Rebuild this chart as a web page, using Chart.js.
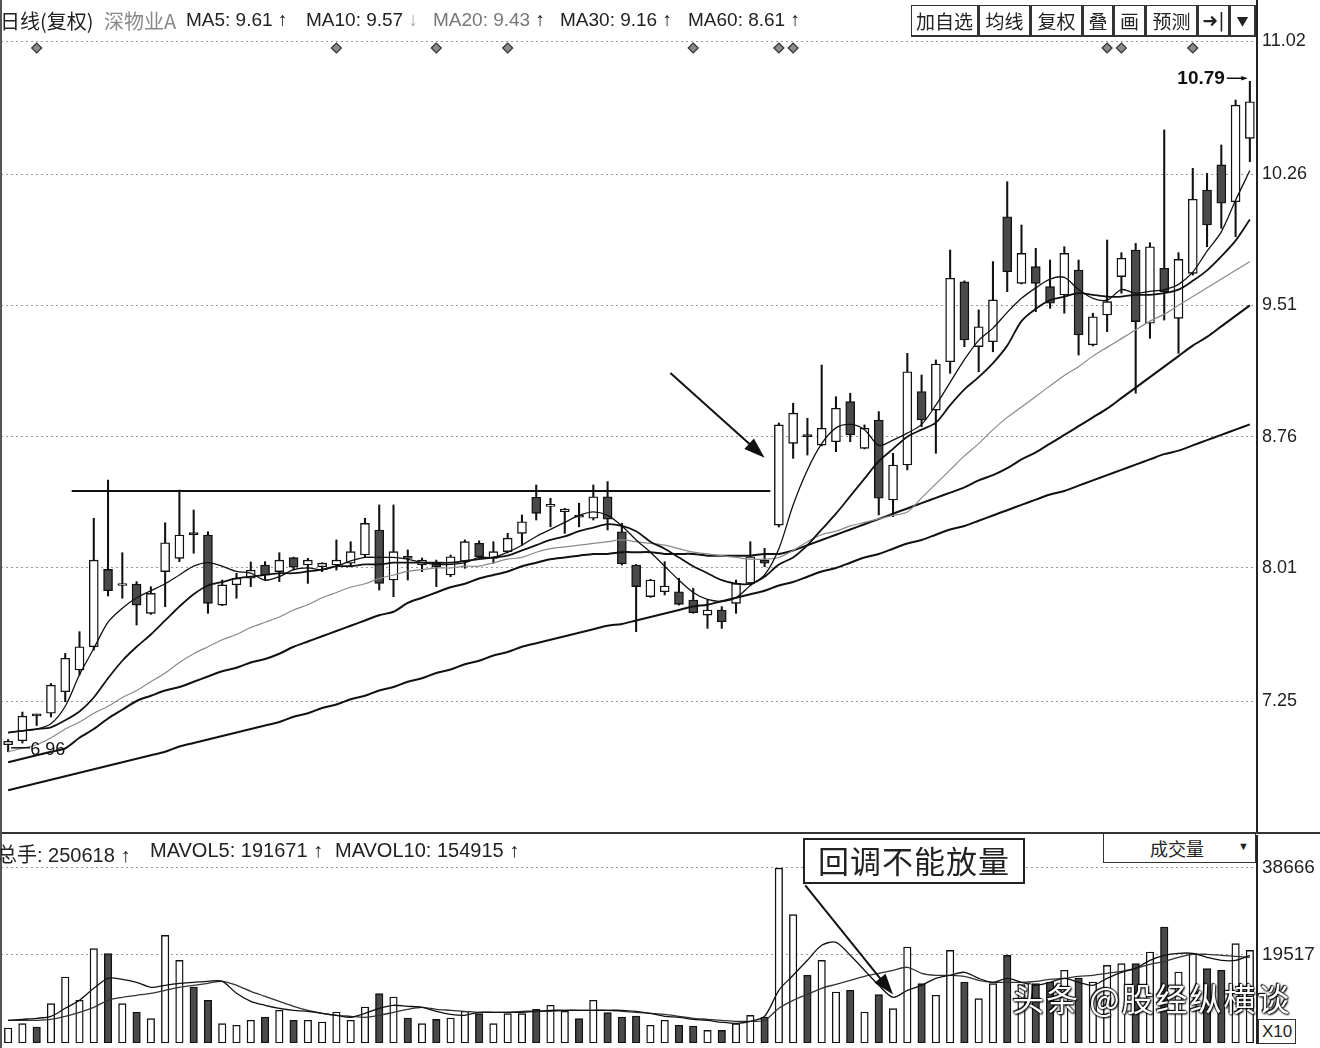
<!DOCTYPE html>
<html>
<head>
<meta charset="utf-8">
<title>深物业A 日线</title>
<script src="https://cdn.jsdelivr.net/npm/chart.js@4.4.1/dist/chart.umd.min.js"></script>
<style>
  body { margin: 0; background: #fff; width: 1320px; height: 1048px; overflow: hidden; position: relative;
         font-family: "Liberation Sans", Arial, "Noto Sans CJK SC", sans-serif; color: #222; }
  canvas { position: absolute; left: 0; }
  #price { top: 0; }
  #volume { top: 835px; }
  .txt { position: absolute; font-size: 19px; white-space: nowrap; z-index: 2; }
  .txt b { font-weight: bold; }
  .cjk { font-family: "Noto Sans CJK SC", sans-serif; font-size: 20px; }
  .vtxt { font-size: 20px; top: 839px; }
  .btn { position: absolute; top: 5px; height: 32px; box-sizing: border-box; border: 1px solid #333;
         border-right-width: 2px; border-bottom-width: 2px; background: #fff; font-size: 19px;
         text-align: center; line-height: 29px; z-index: 2; font-family: "Noto Sans CJK SC", sans-serif; }
  .box { position: absolute; background: #fff; box-sizing: border-box; z-index: 2; }
  #sep { position: absolute; left: 0; top: 832px; width: 1320px; height: 2px; background: #333; z-index: 2; }
  #leftEdge { position: absolute; left: 0; top: 0; width: 2px; height: 1048px; background: #555; z-index: 2; }
  #wm { position: absolute; left: 1012px; top: 974px; font: 32px "Noto Sans CJK SC", sans-serif; color: #fff; z-index: 3;
        letter-spacing: 2px;
        text-shadow: 0 0 2px #000, 0 0 2px #000, 1px 1px 2px #000, -1px -1px 1px #000; }
</style>
</head>
<body>
<canvas id="price" width="1320" height="832"></canvas>
<canvas id="volume" width="1320" height="213"></canvas>
<div id="sep"></div>
<div id="leftEdge"></div>

<!-- price header -->
<div class="txt cjk" style="left:0;top:6px">日线(复权)</div>
<div class="txt cjk" style="left:104px;top:6px;color:#888">深物业A</div>
<div class="txt" style="left:186px;top:9px">MA5: 9.61<b> ↑</b></div>
<div class="txt" style="left:306px;top:9px">MA10: 9.57 <span style="color:#aaa">↓</span></div>
<div class="txt" style="left:433px;top:9px;color:#777">MA20: 9.43<b style="color:#222"> ↑</b></div>
<div class="txt" style="left:560px;top:9px">MA30: 9.16<b> ↑</b></div>
<div class="txt" style="left:688px;top:9px">MA60: 8.61<b> ↑</b></div>

<div class="btn" style="left:911px;width:68px">加自选</div>
<div class="btn" style="left:979px;width:52px">均线</div>
<div class="btn" style="left:1031px;width:52px">复权</div>
<div class="btn" style="left:1083px;width:31px">叠</div>
<div class="btn" style="left:1114px;width:32px">画</div>
<div class="btn" style="left:1146px;width:52px">预测</div>
<div class="btn" style="left:1198px;width:32px;font-family:'DejaVu Sans'">➜|</div>
<div class="btn" style="left:1230px;width:26px;font-size:12px">▼</div>

<!-- volume header -->
<div class="txt vtxt" style="left:-3px"><span class="cjk">总手</span>: 250618<b> ↑</b></div>
<div class="txt vtxt" style="left:150px">MAVOL5: 191671<b> ↑</b></div>
<div class="txt vtxt" style="left:335px">MAVOL10: 154915<b> ↑</b></div>
<div class="box" style="left:1103px;top:834px;width:153px;height:29px;border:1px solid #333;border-top:none">
  <span style="position:absolute;left:46px;top:1px;font:18px 'Noto Sans CJK SC'">成交量</span>
  <span style="position:absolute;left:134px;top:6px;font-size:11px">▼</span>
</div>
<div class="box" style="left:803px;top:838px;width:222px;height:46px;border:2px solid #222;
     font:31px 'Noto Sans CJK SC';line-height:40px;text-align:center;letter-spacing:1px">回调不能放量</div>
<div class="box" style="left:1258px;top:1019px;width:38px;height:25px;border:1px solid #333;font-size:17px;line-height:23px;text-align:center">X10</div>
<div id="wm">头条 @股经纵横谈</div>

<script>
// daily candles, oldest first (prices)
const opens = [
  7.00, 7.023, 7.17, 7.18, 7.303, 7.427, 7.56, 8.002, 7.91, 7.918,
  7.751, 7.989, 8.065, 8.21, 8.198, 7.798, 7.913, 7.951, 8.027, 7.989,
  8.069, 8.027, 8.016, 8.027, 8.037, 8.084, 8.227, 7.941, 8.07, 8.027,
  8.038, 7.97, 8.046, 8.151, 8.065, 8.103, 8.208, 8.414, 8.362, 8.331,
  8.305, 8.294, 8.417, 8.217, 8.027, 7.846, 7.874, 7.874, 7.827, 7.741,
  7.77, 7.808, 7.922, 8.055, 8.255, 8.722, 8.765, 8.712, 8.731, 8.96,
  8.693, 8.855, 8.398, 8.598, 9.018, 8.912, 9.188, 9.645, 9.274, 9.302,
  10.016, 9.636, 9.731, 9.617, 9.569, 9.712, 9.284, 9.455, 9.674, 9.826,
  9.408, 9.722, 9.436, 9.693, 10.169, 10.312, 10.102, 10.464
];
const highs = [
  7.03, 7.187, 7.175, 7.35, 7.522, 7.646, 8.294, 8.512, 8.097, 7.932,
  7.903, 8.268, 8.455, 8.341, 8.217, 7.941, 7.98, 8.044, 8.046, 8.097,
  8.072, 8.065, 8.04, 8.17, 8.16, 8.294, 8.37, 8.37, 8.113, 8.067,
  8.055, 8.084, 8.17, 8.165, 8.16, 8.208, 8.313, 8.484, 8.408, 8.35,
  8.38, 8.484, 8.503, 8.265, 8.03, 7.945, 8.046, 7.951, 7.894, 7.827,
  7.789, 7.941, 8.16, 8.122, 8.838, 8.951, 8.865, 9.169, 8.988, 9.008,
  8.827, 8.903, 8.665, 9.236, 9.112, 9.198, 9.826, 9.65, 9.484, 9.76,
  10.216, 9.969, 9.836, 9.769, 9.845, 9.769, 9.465, 9.883, 9.811, 9.864,
  9.868, 10.512, 9.811, 10.293, 10.264, 10.426, 10.683, 10.79
];
const lows = [
  6.96, 7.01, 7.11, 7.159, 7.246, 7.399, 7.541, 7.85, 7.837, 7.684,
  7.745, 7.789, 8.046, 8.094, 7.751, 7.795, 7.837, 7.903, 7.941, 7.932,
  7.998, 7.922, 7.989, 7.998, 8.017, 8.074, 7.884, 7.846, 7.941, 7.989,
  7.903, 7.96, 8.008, 8.065, 8.037, 8.096, 8.141, 8.284, 8.245, 8.208,
  8.245, 8.284, 8.227, 8.027, 7.646, 7.842, 7.856, 7.798, 7.751, 7.665,
  7.665, 7.751, 7.913, 8.017, 8.244, 8.636, 8.655, 8.707, 8.674, 8.731,
  8.69, 8.313, 8.303, 8.57, 8.817, 8.665, 9.122, 9.274, 9.131, 9.245,
  9.588, 9.632, 9.474, 9.493, 9.465, 9.226, 9.278, 9.36, 9.579, 9.008,
  9.322, 9.426, 9.236, 9.683, 9.845, 9.95, 9.902, 10.331
];
const closes = [
  7.02, 7.164, 7.165, 7.341, 7.494, 7.56, 8.055, 7.88, 7.915, 7.798,
  7.865, 8.154, 8.198, 8.20, 7.808, 7.913, 7.951, 7.998, 7.97, 8.055,
  8.014, 8.055, 8.038, 8.055, 8.103, 8.265, 7.922, 8.103, 8.065, 8.055,
  8.016, 8.074, 8.16, 8.074, 8.103, 8.18, 8.274, 8.322, 8.366, 8.347,
  8.30, 8.417, 8.288, 8.033, 7.903, 7.941, 7.907, 7.802, 7.754, 7.77,
  7.703, 7.922, 8.074, 8.037, 8.827, 8.894, 8.76, 8.808, 8.922, 8.77,
  8.808, 8.408, 8.598, 9.131, 8.855, 9.175, 9.665, 9.312, 9.388, 9.541,
  9.702, 9.807, 9.636, 9.522, 9.807, 9.341, 9.445, 9.531, 9.779, 9.417,
  9.845, 9.588, 9.773, 10.116, 9.969, 10.093, 10.654, 10.673
];

// moving averages as drawn on the chart
const ma5 = [
  7.07, 7.08, 7.09, 7.12, 7.22, 7.40, 7.55, 7.70, 7.78, 7.84,
  7.88, 7.92, 7.97, 8.02, 8.04, 8.02, 7.99, 7.98, 7.94, 7.96,
  8.00, 8.01, 8.00, 8.02, 8.05, 8.07, 8.07, 8.07, 8.06, 8.04,
  8.03, 8.03, 8.04, 8.07, 8.07, 8.10, 8.14, 8.19, 8.23, 8.27,
  8.31, 8.33, 8.31, 8.25, 8.17, 8.10, 8.02, 7.94, 7.87, 7.83,
  7.82, 7.84, 7.91, 7.97, 8.12, 8.37, 8.57, 8.72, 8.81, 8.83,
  8.80, 8.71, 8.74, 8.78, 8.83, 8.94, 9.07, 9.20, 9.31, 9.38,
  9.47, 9.55, 9.61, 9.66, 9.67, 9.60, 9.55, 9.54, 9.60, 9.58,
  9.59, 9.60, 9.63, 9.70, 9.82, 9.93, 10.11, 10.28
];
const ma10 = [
  7.07, 7.08, 7.09, 7.10, 7.14, 7.19, 7.27, 7.38, 7.48, 7.56,
  7.63, 7.71, 7.79, 7.86, 7.91, 7.93, 7.95, 7.96, 7.97, 7.98,
  7.98, 7.99, 8.00, 8.02, 8.02, 8.03, 8.03, 8.04, 8.04, 8.04,
  8.04, 8.04, 8.05, 8.06, 8.07, 8.08, 8.11, 8.14, 8.17, 8.19,
  8.22, 8.24, 8.26, 8.25, 8.22, 8.16, 8.12, 8.07, 8.02, 7.98,
  7.94, 7.92, 7.92, 7.96, 8.03, 8.07, 8.14, 8.23, 8.32, 8.42,
  8.52, 8.62, 8.69, 8.76, 8.80, 8.84, 8.94, 9.03, 9.10, 9.18,
  9.28, 9.42, 9.49, 9.54, 9.56, 9.58, 9.57, 9.56, 9.56, 9.57,
  9.57, 9.58, 9.60, 9.65, 9.71, 9.79, 9.88, 10.00
];
const ma20 = [
  6.96, 6.98, 7.00, 7.04, 7.09, 7.13, 7.18, 7.22, 7.27, 7.31,
  7.36, 7.41, 7.47, 7.52, 7.56, 7.60, 7.63, 7.67, 7.70, 7.73,
  7.77, 7.80, 7.84, 7.87, 7.90, 7.92, 7.95, 7.97, 7.99, 8.00,
  8.01, 8.01, 8.02, 8.02, 8.04, 8.06, 8.07, 8.10, 8.12, 8.13,
  8.14, 8.15, 8.16, 8.17, 8.16, 8.15, 8.14, 8.12, 8.10, 8.09,
  8.08, 8.07, 8.06, 8.06, 8.07, 8.11, 8.16, 8.20, 8.22, 8.25,
  8.27, 8.29, 8.31, 8.33, 8.41, 8.49, 8.57, 8.65, 8.72, 8.80,
  8.87, 8.93, 8.99, 9.05, 9.11, 9.16, 9.22, 9.27, 9.32, 9.37,
  9.42, 9.46, 9.51, 9.56, 9.61, 9.66, 9.71, 9.76
];
const ma30 = [
  6.90, 6.92, 6.94, 6.96, 6.98, 7.04, 7.09, 7.15, 7.20, 7.25,
  7.28, 7.31, 7.33, 7.36, 7.39, 7.42, 7.44, 7.47, 7.49, 7.52,
  7.56, 7.59, 7.62, 7.65, 7.68, 7.71, 7.74, 7.76, 7.81, 7.84,
  7.87, 7.90, 7.92, 7.95, 7.97, 7.99, 8.02, 8.04, 8.06, 8.07,
  8.08, 8.09, 8.09, 8.10, 8.10, 8.10, 8.09, 8.09, 8.09, 8.08,
  8.08, 8.08, 8.08, 8.09, 8.09, 8.11, 8.14, 8.17, 8.20, 8.23,
  8.26, 8.29, 8.32, 8.35, 8.38, 8.41, 8.44, 8.47, 8.51, 8.54,
  8.58, 8.63, 8.67, 8.72, 8.77, 8.82, 8.87, 8.92, 8.98, 9.04,
  9.10, 9.16, 9.22, 9.28, 9.33, 9.39, 9.45, 9.51
];
const ma60 = [
  6.74, 6.76, 6.78, 6.80, 6.82, 6.84, 6.86, 6.88, 6.90, 6.92,
  6.94, 6.96, 6.99, 7.01, 7.03, 7.05, 7.07, 7.09, 7.11, 7.13,
  7.16, 7.18, 7.21, 7.23, 7.26, 7.28, 7.31, 7.33, 7.36, 7.38,
  7.41, 7.43, 7.46, 7.48, 7.51, 7.53, 7.56, 7.58, 7.60, 7.62,
  7.64, 7.66, 7.68, 7.69, 7.71, 7.73, 7.75, 7.77, 7.79, 7.80,
  7.82, 7.84, 7.86, 7.88, 7.91, 7.93, 7.96, 7.99, 8.01, 8.04,
  8.07, 8.09, 8.12, 8.15, 8.17, 8.20, 8.23, 8.25, 8.28, 8.31,
  8.34, 8.37, 8.40, 8.43, 8.45, 8.48, 8.51, 8.54, 8.57, 8.60,
  8.63, 8.66, 8.68, 8.71, 8.74, 8.77, 8.80, 8.83
];

// volume (x10) and its averages
const volumes = [
  3300, 4270, 3520, 8670, 14530, 9400, 20780, 19680, 8670, 6820,
  5370, 23700, 18200, 12330, 9400, 4270, 3900, 5000, 5720, 7200,
  5000, 5000, 4620, 6820, 5000, 7920, 10870, 10130, 5500, 4270,
  5210, 5500, 6980, 6470, 4270, 6470, 6470, 7420, 8300, 6980,
  5370, 9400, 6690, 5720, 5940, 3900, 5000, 3900, 3740, 2790,
  2790, 4270, 6090, 5720, 38500, 28250, 14900, 18200, 11230, 11600,
  6820, 10650, 7570, 21130, 13070, 10500, 20400, 13430, 9770, 13070,
  19300, 12850, 13070, 13430, 16000, 14300, 13430, 17100, 17480, 17480,
  20030, 25530, 15630, 19680, 16380, 16000, 21880, 20400
];
const mavol5 = [
  5000, 5220, 5440, 5880, 7640, 9400, 12040, 14240, 14020, 13360,
  12260, 12700, 13140, 13360, 13580, 13580, 10940, 9180, 8300, 7640,
  7200, 6980, 6540, 6100, 5660, 6540, 7640, 8300, 8080, 7860,
  6980, 6320, 6100, 6760, 6760, 6760, 6760, 6980, 7200, 7200,
  7200, 7200, 7200, 7200, 6980, 6540, 5880, 5660, 5220, 5000,
  4560, 4340, 4780, 5880, 11600, 14900, 18200, 21500, 22160, 19300,
  16000, 12700, 10060, 11600, 12700, 14240, 14900, 15560, 14240, 13360,
  14240, 13360, 12700, 13360, 14240, 13360, 12700, 14240, 15560, 16440,
  18200, 19300, 19740, 19740, 18860, 18200, 18200, 19300
];
const mavol10 = [
  5000, 5000, 5000, 5220, 5880, 6760, 7860, 9400, 10060, 10500,
  10940, 11600, 12260, 12700, 13140, 13580, 12700, 11380, 10280, 9180,
  8080, 7200, 6540, 6100, 5880, 5660, 6100, 6760, 7420, 7860,
  7420, 7200, 6980, 6760, 6760, 6760, 6980, 6980, 6980, 7200,
  7200, 7200, 7200, 6980, 6760, 6540, 6320, 5880, 5440, 5220,
  5000, 4780, 4780, 5000, 7640, 9400, 10720, 12040, 12920, 13800,
  14680, 15340, 16000, 16660, 15340, 14900, 14900, 14680, 13800, 13360,
  13360, 13360, 13580, 14020, 14240, 14680, 14900, 15340, 15780, 16440,
  17320, 17980, 18860, 19520, 19520, 19300, 19080, 18860
];

const priceTicks = [7.25, 8.01, 8.76, 9.51, 10.26, 11.02];
const volumeTicks = [19517, 38666];
const markerIdx = [2, 23, 30, 35, 48, 54, 55, 77, 78, 83];  // info diamonds along the top
const markerLevel = 10.98;
const resistance = 8.45;

const labels = opens.map((_, i) => i);
const isUp = opens.map((o, i) => closes[i] >= opens[i]);
const INK = '#111';
const DOWN = '#4a4a4a';

Chart.defaults.font.family = '"Liberation Sans", Arial, sans-serif';
Chart.defaults.color = '#222';

function drawArrow(ctx, x1, y1, x2, y2, head) {
  const a = Math.atan2(y2 - y1, x2 - x1);
  ctx.beginPath();
  ctx.moveTo(x1, y1);
  ctx.lineTo(x2 - Math.cos(a) * head * 0.7, y2 - Math.sin(a) * head * 0.7);
  ctx.stroke();
  ctx.beginPath();
  ctx.moveTo(x2, y2);
  ctx.lineTo(x2 - head * Math.cos(a - 0.33), y2 - head * Math.sin(a - 0.33));
  ctx.lineTo(x2 - head * Math.cos(a + 0.33), y2 - head * Math.sin(a + 0.33));
  ctx.closePath();
  ctx.fill();
}

// keep the right axis a fixed width and stop it padding the plot area
function fixAxis(s) {
  s.width = 63;
  s.paddingTop = 0;
  s.paddingBottom = 0;
}

// resistance line behind the candles, arrow and high/low labels on top
const priceNotes = {
  id: 'priceNotes',
  beforeDatasetsDraw(chart) {
    const { ctx, scales: { x, y } } = chart;
    ctx.save();
    ctx.strokeStyle = INK;
    ctx.lineWidth = 2;
    ctx.beginPath();
    ctx.moveTo(x.getPixelForValue(4.45), y.getPixelForValue(resistance));
    ctx.lineTo(x.getPixelForValue(53.4), y.getPixelForValue(resistance));
    ctx.stroke();
    ctx.restore();
  },
  afterDatasetsDraw(chart) {
    const { ctx, scales: { x, y } } = chart;
    ctx.save();
    ctx.strokeStyle = INK;
    ctx.fillStyle = INK;
    ctx.lineWidth = 2;
    drawArrow(ctx, x.getPixelForValue(46.4), y.getPixelForValue(9.124),
              x.getPixelForValue(53.0), y.getPixelForValue(8.64), 22);

    const last = highs.length - 1;
    const hx = x.getPixelForValue(last), hy = y.getPixelForValue(highs[last]) - 3;
    ctx.font = 'bold 19px "Liberation Sans", Arial';
    ctx.textBaseline = 'middle';
    ctx.textAlign = 'right';
    ctx.fillText(highs[last].toFixed(2), hx - 25, hy);
    ctx.lineWidth = 1.5;
    drawArrow(ctx, hx - 23, hy, hx - 2, hy, 7);

    const lx = x.getPixelForValue(0), ly = y.getPixelForValue(lows[0]) - 4;
    ctx.beginPath();
    ctx.moveTo(lx + 3, ly);
    ctx.lineTo(lx + 22, ly);
    ctx.stroke();
    ctx.textAlign = 'left';
    ctx.font = '18px "Liberation Sans", Arial';
    ctx.fillText(lows[0].toFixed(2), lx + 22, ly + 2);
    ctx.restore();
  }
};

const volumeNotes = {
  id: 'volumeNotes',
  afterDatasetsDraw(chart) {
    const { ctx, scales: { x, y } } = chart;
    ctx.save();
    ctx.strokeStyle = INK;
    ctx.fillStyle = INK;
    ctx.lineWidth = 2;
    drawArrow(ctx, x.getPixelForValue(55.85), y.getPixelForValue(34700),
              x.getPixelForValue(62.0), y.getPixelForValue(10700), 22);
    ctx.restore();
  }
};

function maLine(data, color, width) {
  return { type: 'line', data, borderColor: color, borderWidth: width, pointRadius: 0,
           tension: 0.3, order: 0 };
}

new Chart(document.getElementById('price'), {
  type: 'bar',
  data: {
    labels,
    datasets: [
      { data: lows.map((l, i) => [l, highs[i]]), backgroundColor: INK, barThickness: 1.4,
        grouped: false, order: 2 },
      { data: opens.map((o, i) => [o, closes[i]]),
        backgroundColor: isUp.map(u => u ? '#fff' : DOWN), borderColor: INK, borderWidth: 1.4,
        borderSkipped: false, barThickness: 9, minBarLength: 2, grouped: false, order: 1 },
      maLine(ma5, INK, 1.3),
      maLine(ma10, INK, 1.8),
      maLine(ma20, '#8a8a8a', 1.2),
      maLine(ma30, INK, 2),
      maLine(ma60, INK, 2),
      { type: 'line', data: labels.map(i => markerIdx.includes(i) ? markerLevel : null), showLine: false,
        pointStyle: 'rectRot', pointRadius: 5, pointBackgroundColor: '#8a8a8a', pointBorderColor: '#333',
        pointBorderWidth: 1.2, order: 0 }
    ]
  },
  options: {
    responsive: false, animation: false, devicePixelRatio: 1,
    layout: { autoPadding: false, padding: { left: 1, right: 0, top: 0, bottom: 0 } },
    plugins: { legend: { display: false }, tooltip: { enabled: false } },
    scales: {
      x: { display: false },
      y: {
        position: 'right', min: 6.5018, max: 11.2542,
        afterFit: fixAxis,
        afterBuildTicks: s => { s.ticks = priceTicks.map(v => ({ value: v })); },
        ticks: { padding: 5, font: { size: 18 }, color: '#222', callback: v => v.toFixed(2) },
        grid: { color: '#999', lineWidth: 1, drawTicks: false },
        border: { display: true, color: '#222', width: 2, dash: [2, 3] }
      }
    }
  },
  plugins: [priceNotes]
});

new Chart(document.getElementById('volume'), {
  type: 'bar',
  data: {
    labels,
    datasets: [
      { data: volumes, backgroundColor: isUp.map(u => u ? '#fff' : DOWN), borderColor: INK,
        borderWidth: 1.4, borderSkipped: false, barThickness: 7.5, order: 1 },
      { type: 'line', data: mavol5, borderColor: INK, borderWidth: 1.3, pointRadius: 0, tension: 0.3, order: 0 },
      { type: 'line', data: mavol10, borderColor: '#333', borderWidth: 1.3, pointRadius: 0, tension: 0.3, order: 0 }
    ]
  },
  options: {
    responsive: false, animation: false, devicePixelRatio: 1,
    layout: { autoPadding: false, padding: { left: 1, right: 0, top: 0, bottom: 5 } },
    plugins: { legend: { display: false }, tooltip: { enabled: false } },
    scales: {
      x: { display: false },
      y: {
        position: 'right', min: 0, max: 45780,
        afterFit: fixAxis,
        afterBuildTicks: s => { s.ticks = volumeTicks.map(v => ({ value: v })); },
        ticks: { padding: 5, font: { size: 19 }, color: '#222', callback: v => String(v) },
        grid: { color: '#999', lineWidth: 1, drawTicks: false },
        border: { display: true, color: '#222', width: 2, dash: [2, 3] }
      }
    }
  },
  plugins: [volumeNotes]
});
</script>
</body>
</html>
